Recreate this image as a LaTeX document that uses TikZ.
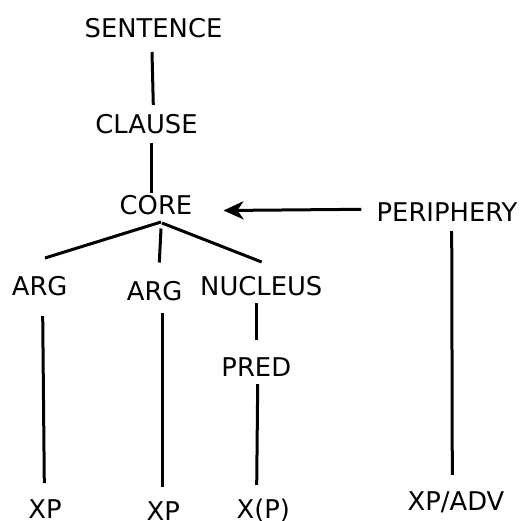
\documentclass[tikz,border=0pt]{standalone}
\usepackage{fontspec}
\setmainfont{DejaVu Sans}
\usetikzlibrary{arrows.meta}
\begin{document}
\begin{tikzpicture}[x=1pt,y=-1pt,
  lbl/.style={inner sep=0pt,text height=18.6pt,text depth=0pt,
    font=\fontsize{25.8}{30}\selectfont},
  link/.style={line width=3pt},
  pointer/.style={line width=3pt,-{Stealth[length=20pt,width=18pt,inset=6pt]}}]
\useasboundingbox (0,0) rectangle (521,520);

% category labels
\node[lbl] (sentence)  at (153.5,28.5) {SENTENCE};
\node[lbl] (clause)    at (146.5,124)  {CLAUSE};
\node[lbl] (core)      at (156,205.5)  {CORE};
\node[lbl] (periphery) at (447,212.5)  {PERIPHERY};
\node[lbl] (arg1)      at (39.7,286.5) {ARG};
\node[lbl] (arg2)      at (154.7,291)  {ARG};
\node[lbl] (nucleus)   at (261.3,286.5){NUCLEUS};
\node[lbl] (pred)      at (256.3,367)  {PRED};
\node[lbl] (xp1)       at (45,509.3)   {XP};
\node[lbl] (xp2)       at (163.3,511)  {XP};
\node[lbl] (xpp)       at (263.3,509.3){X(P)};
\node[lbl] (xpadv)     at (456,501)    {XP/ADV};

% tree branches
\draw[link] ([xshift=-1.5pt,yshift=-14pt]sentence.south) -- ([xshift=6.8pt,yshift=9.7pt]clause.north);
\draw[link] ([xshift=5.2pt,yshift=-9.7pt]clause.south) -- ([xshift=-4.3pt,yshift=3.5pt]core.north);
\draw[link] ([xshift=5pt,yshift=-7pt]core.south) -- ([xshift=5.3pt,yshift=19pt]arg1.north);
\draw[link] ([xshift=5pt,yshift=-13.5pt]core.south) -- ([xshift=4.6pt,yshift=19pt]arg2.north);
\draw[link] ([xshift=6pt,yshift=-8pt]core.south) -- ([xshift=0.4pt,yshift=15pt]nucleus.north);
\draw[link] ([xshift=3pt,yshift=-20.2pt]arg1.south) -- ([xshift=-0.7pt,yshift=16.7pt]xp1.north);
\draw[link] ([xshift=8pt,yshift=-12.4pt]arg2.south) -- ([xshift=-0.6pt,yshift=14.4pt]xp2.north);
\draw[link] ([xshift=-5.3pt,yshift=-7.2pt]nucleus.south) -- ([xshift=-0.3pt,yshift=17.7pt]pred.north);
\draw[link] ([xshift=1.4pt,yshift=-7.7pt]pred.south) -- ([xshift=-6.6pt,yshift=15pt]xpp.north);
\draw[link] ([xshift=4.7pt,yshift=-9.2pt]periphery.south) -- ([xshift=-3.7pt,yshift=16.7pt]xpadv.north);

% periphery modifies the core
\draw[pointer] ([xshift=-15pt,yshift=3.2pt]periphery.west) -- ([xshift=31pt,yshift=-5pt]core.east);
\end{tikzpicture}
\end{document}
